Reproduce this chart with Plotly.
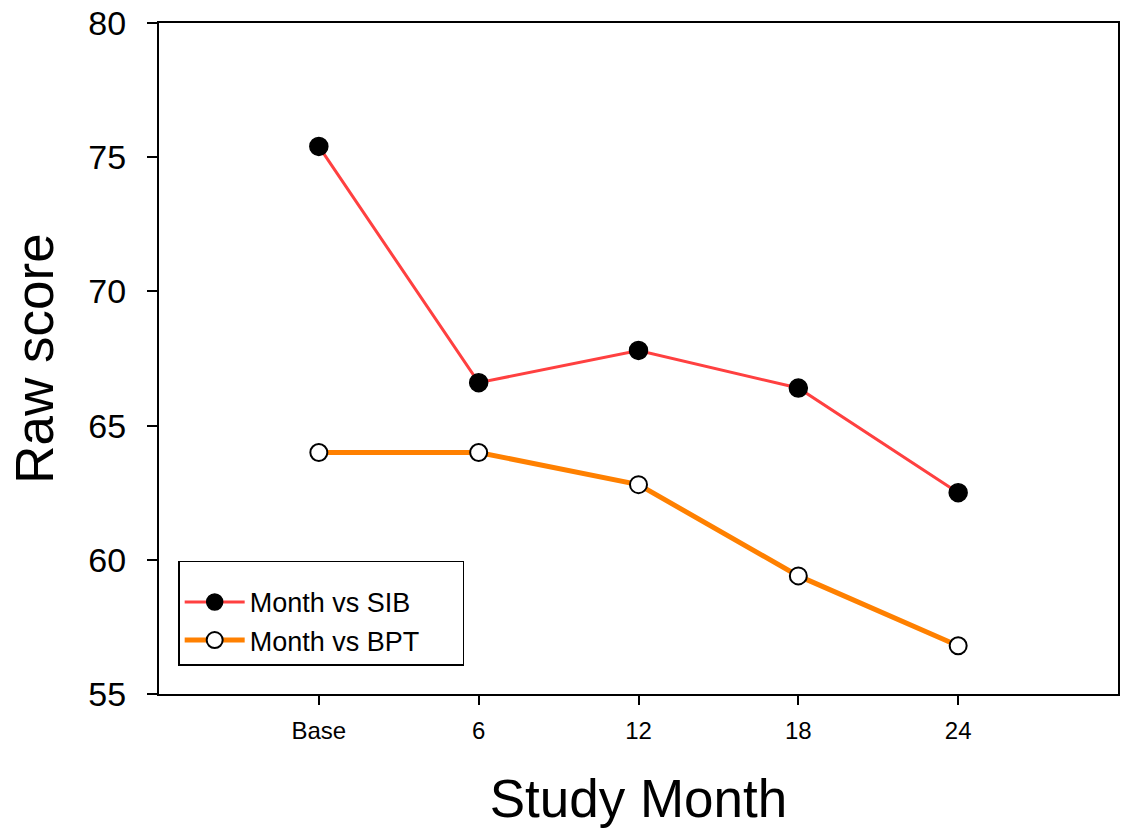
import plotly.graph_objects as go

months = ["Base", "6", "12", "18", "24"]
sib = [75.4, 66.6, 67.8, 66.4, 62.5]
bpt = [64.0, 64.0, 62.8, 59.4, 56.8]
ytick_vals = [55, 60, 65, 70, 75, 80]
series_names = ["Month vs SIB", "Month vs BPT"]

xpos = list(range(len(months)))
font = "Liberation Sans, Arial, sans-serif"
pad = "\u00a0" * 5

fig = go.Figure()
fig.add_trace(go.Scatter(
    x=xpos, y=sib, mode="lines+markers", name=series_names[0] + pad,
    line=dict(color="#ff4040", width=3),
    marker=dict(symbol="circle", size=18, color="black", line=dict(color="black", width=1.5)),
))
fig.add_trace(go.Scatter(
    x=xpos, y=bpt, mode="lines+markers", name=series_names[1] + pad,
    line=dict(color="#ff8000", width=5),
    marker=dict(symbol="circle", size=17, color="white", line=dict(color="black", width=2)),
))

fig.update_layout(
    width=1122, height=828,
    margin=dict(l=159, r=2, t=23, b=134),
    paper_bgcolor="white", plot_bgcolor="white",
    font=dict(family=font, color="black"),
    showlegend=True,
    legend=dict(
        x=0.02, y=0.042, xanchor="left", yanchor="bottom",
        bgcolor="white", bordercolor="black", borderwidth=1.5,
        font=dict(size=27, family=font),
        itemwidth=60, tracegroupgap=0,
        title=dict(text=" ", font=dict(size=12)),
    ),
    xaxis=dict(
        range=[-1, 5], tickvals=xpos, ticktext=months,
        showgrid=False, zeroline=False,
        showline=True, linecolor="black", linewidth=2, mirror=True,
        ticks="outside", ticklen=9, tickwidth=1.5, tickcolor="black",
        tickfont=dict(size=24, family=font), ticklabelstandoff=5,
        title=dict(text="Study Month", font=dict(size=53, family=font), standoff=37),
    ),
    yaxis=dict(
        range=[55, 80], tickvals=ytick_vals,
        showgrid=False, zeroline=False,
        showline=True, linecolor="black", linewidth=2, mirror=True,
        ticks="outside", ticklen=10, tickwidth=1.5, tickcolor="black",
        tickfont=dict(size=34, family=font), ticklabelstandoff=14,
        title=dict(text="Raw score", font=dict(size=53, family=font), standoff=18),
    ),
)

fig.write_html("out.html")
